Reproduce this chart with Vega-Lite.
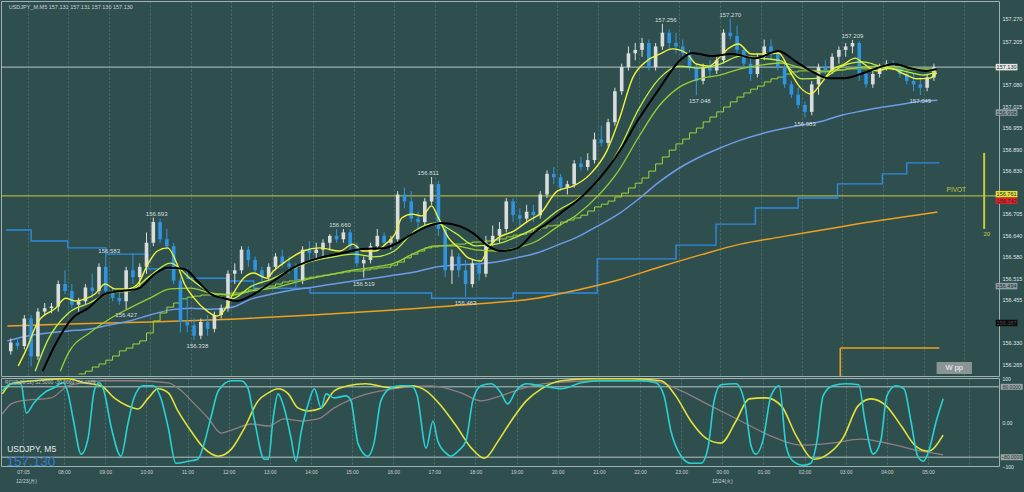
{
"$schema":"https://vega.github.io/schema/vega-lite/v6.json",
"background":"#2f4f4f",
"padding":0,
"spacing":2,
"bounds":"flush",
"config":{"view":{"stroke":"#9fb0b0","strokeWidth":1},"font":"Liberation Sans"},
"resolve":{"scale":{"x":"independent","y":"independent"}},
"datasets":{
"cd":[
{"t":"2024-12-23T06:35","o":156.305,"h":156.342,"l":156.295,"c":156.33},
{"t":"2024-12-23T06:45","o":156.33,"h":156.345,"l":156.31,"c":156.32},
{"t":"2024-12-23T06:55","o":156.32,"h":156.41,"l":156.31,"c":156.40},
{"t":"2024-12-23T07:05","o":156.40,"h":156.41,"l":156.262,"c":156.29},
{"t":"2024-12-23T07:15","o":156.29,"h":156.43,"l":156.28,"c":156.42},
{"t":"2024-12-23T07:25","o":156.42,"h":156.445,"l":156.41,"c":156.43},
{"t":"2024-12-23T07:35","o":156.43,"h":156.445,"l":156.415,"c":156.435},
{"t":"2024-12-23T07:45","o":156.435,"h":156.51,"l":156.42,"c":156.50},
{"t":"2024-12-23T07:55","o":156.50,"h":156.54,"l":156.47,"c":156.48},
{"t":"2024-12-23T08:05","o":156.48,"h":156.50,"l":156.43,"c":156.44},
{"t":"2024-12-23T08:15","o":156.44,"h":156.46,"l":156.42,"c":156.45,"s":156.239},
{"t":"2024-12-23T08:25","o":156.45,"h":156.50,"l":156.44,"c":156.49,"s":156.247},
{"t":"2024-12-23T08:35","o":156.49,"h":156.53,"l":156.46,"c":156.48,"s":156.259},
{"t":"2024-12-23T08:45","o":156.48,"h":156.56,"l":156.47,"c":156.55,"s":156.268},
{"t":"2024-12-23T08:55","o":156.55,"h":156.585,"l":156.47,"c":156.48,"s":156.279},
{"t":"2024-12-23T09:05","o":156.48,"h":156.49,"l":156.45,"c":156.46,"s":156.291},
{"t":"2024-12-23T09:15","o":156.46,"h":156.48,"l":156.44,"c":156.45,"s":156.306},
{"t":"2024-12-23T09:25","o":156.45,"h":156.55,"l":156.427,"c":156.54,"s":156.314},
{"t":"2024-12-23T09:35","o":156.54,"h":156.59,"l":156.50,"c":156.52,"s":156.326},
{"t":"2024-12-23T09:45","o":156.52,"h":156.56,"l":156.49,"c":156.55,"s":156.335},
{"t":"2024-12-23T09:55","o":156.55,"h":156.65,"l":156.53,"c":156.62,"s":156.358},
{"t":"2024-12-23T10:05","o":156.62,"h":156.693,"l":156.61,"c":156.68,"s":156.393},
{"t":"2024-12-23T10:15","o":156.68,"h":156.69,"l":156.62,"c":156.63,"s":156.416},
{"t":"2024-12-23T10:25","o":156.63,"h":156.66,"l":156.60,"c":156.61,"s":156.433},
{"t":"2024-12-23T10:35","o":156.61,"h":156.62,"l":156.50,"c":156.51,"s":156.445},
{"t":"2024-12-23T10:45","o":156.51,"h":156.52,"l":156.36,"c":156.39,"s":156.457},
{"t":"2024-12-23T10:55","o":156.39,"h":156.46,"l":156.36,"c":156.38,"s":156.462},
{"t":"2024-12-23T11:05","o":156.38,"h":156.40,"l":156.338,"c":156.35,"s":156.465},
{"t":"2024-12-23T11:15","o":156.35,"h":156.40,"l":156.34,"c":156.39,"s":156.468},
{"t":"2024-12-23T11:25","o":156.39,"h":156.41,"l":156.35,"c":156.37,"s":156.468},
{"t":"2024-12-23T11:35","o":156.37,"h":156.42,"l":156.36,"c":156.41,"s":156.471},
{"t":"2024-12-23T11:45","o":156.41,"h":156.44,"l":156.40,"c":156.43,"s":156.471},
{"t":"2024-12-23T11:55","o":156.43,"h":156.54,"l":156.42,"c":156.53,"s":156.474},
{"t":"2024-12-23T12:05","o":156.53,"h":156.56,"l":156.50,"c":156.54,"s":156.474},
{"t":"2024-12-23T12:15","o":156.54,"h":156.61,"l":156.53,"c":156.60,"s":156.477},
{"t":"2024-12-23T12:25","o":156.60,"h":156.61,"l":156.55,"c":156.57,"s":156.483},
{"t":"2024-12-23T12:35","o":156.57,"h":156.58,"l":156.53,"c":156.54,"s":156.486},
{"t":"2024-12-23T12:45","o":156.54,"h":156.55,"l":156.50,"c":156.52,"s":156.491},
{"t":"2024-12-23T12:55","o":156.52,"h":156.56,"l":156.51,"c":156.55,"s":156.494},
{"t":"2024-12-23T13:05","o":156.55,"h":156.59,"l":156.54,"c":156.58,"s":156.500},
{"t":"2024-12-23T13:15","o":156.58,"h":156.60,"l":156.55,"c":156.56,"s":156.506},
{"t":"2024-12-23T13:25","o":156.56,"h":156.58,"l":156.53,"c":156.55,"s":156.509},
{"t":"2024-12-23T13:35","o":156.55,"h":156.56,"l":156.49,"c":156.51,"s":156.512},
{"t":"2024-12-23T13:45","o":156.51,"h":156.61,"l":156.50,"c":156.60,"s":156.517},
{"t":"2024-12-23T13:55","o":156.60,"h":156.625,"l":156.57,"c":156.59,"s":156.520},
{"t":"2024-12-23T14:05","o":156.59,"h":156.62,"l":156.57,"c":156.60,"s":156.523},
{"t":"2024-12-23T14:15","o":156.60,"h":156.63,"l":156.58,"c":156.62,"s":156.526},
{"t":"2024-12-23T14:25","o":156.62,"h":156.645,"l":156.60,"c":156.64,"s":156.529},
{"t":"2024-12-23T14:35","o":156.64,"h":156.66,"l":156.62,"c":156.63,"s":156.532},
{"t":"2024-12-23T14:45","o":156.63,"h":156.66,"l":156.62,"c":156.65,"s":156.535},
{"t":"2024-12-23T14:55","o":156.65,"h":156.66,"l":156.60,"c":156.61,"s":156.538},
{"t":"2024-12-23T15:05","o":156.61,"h":156.62,"l":156.55,"c":156.56,"s":156.538},
{"t":"2024-12-23T15:15","o":156.56,"h":156.58,"l":156.519,"c":156.57,"s":156.541},
{"t":"2024-12-23T15:25","o":156.57,"h":156.62,"l":156.56,"c":156.61,"s":156.544},
{"t":"2024-12-23T15:35","o":156.61,"h":156.66,"l":156.60,"c":156.64,"s":156.547},
{"t":"2024-12-23T15:45","o":156.64,"h":156.65,"l":156.61,"c":156.62,"s":156.549},
{"t":"2024-12-23T15:55","o":156.62,"h":156.64,"l":156.60,"c":156.63,"s":156.555},
{"t":"2024-12-23T16:05","o":156.63,"h":156.77,"l":156.62,"c":156.76,"s":156.564},
{"t":"2024-12-23T16:15","o":156.76,"h":156.78,"l":156.72,"c":156.74,"s":156.576},
{"t":"2024-12-23T16:25","o":156.74,"h":156.77,"l":156.68,"c":156.69,"s":156.587},
{"t":"2024-12-23T16:35","o":156.69,"h":156.71,"l":156.66,"c":156.68,"s":156.596},
{"t":"2024-12-23T16:45","o":156.68,"h":156.75,"l":156.67,"c":156.74,"s":156.605},
{"t":"2024-12-23T16:55","o":156.74,"h":156.811,"l":156.73,"c":156.79,"s":156.608},
{"t":"2024-12-23T17:05","o":156.79,"h":156.80,"l":156.64,"c":156.66,"s":156.611},
{"t":"2024-12-23T17:15","o":156.66,"h":156.67,"l":156.52,"c":156.54,"s":156.613},
{"t":"2024-12-23T17:25","o":156.54,"h":156.60,"l":156.50,"c":156.58,"s":156.616},
{"t":"2024-12-23T17:35","o":156.58,"h":156.59,"l":156.52,"c":156.54,"s":156.616},
{"t":"2024-12-23T17:45","o":156.54,"h":156.57,"l":156.463,"c":156.50,"s":156.619},
{"t":"2024-12-23T17:55","o":156.50,"h":156.57,"l":156.49,"c":156.56,"s":156.622},
{"t":"2024-12-23T18:05","o":156.56,"h":156.57,"l":156.51,"c":156.53,"s":156.622},
{"t":"2024-12-23T18:15","o":156.53,"h":156.64,"l":156.52,"c":156.62,"s":156.625},
{"t":"2024-12-23T18:25","o":156.62,"h":156.67,"l":156.61,"c":156.64,"s":156.628},
{"t":"2024-12-23T18:35","o":156.64,"h":156.68,"l":156.62,"c":156.66,"s":156.631},
{"t":"2024-12-23T18:45","o":156.66,"h":156.75,"l":156.65,"c":156.74,"s":156.637},
{"t":"2024-12-23T18:55","o":156.74,"h":156.75,"l":156.68,"c":156.70,"s":156.642},
{"t":"2024-12-23T19:05","o":156.70,"h":156.72,"l":156.67,"c":156.69,"s":156.645},
{"t":"2024-12-23T19:15","o":156.69,"h":156.73,"l":156.68,"c":156.71,"s":156.651},
{"t":"2024-12-23T19:25","o":156.71,"h":156.73,"l":156.68,"c":156.70,"s":156.657},
{"t":"2024-12-23T19:35","o":156.70,"h":156.77,"l":156.69,"c":156.76,"s":156.663},
{"t":"2024-12-23T19:45","o":156.76,"h":156.83,"l":156.75,"c":156.82,"s":156.669},
{"t":"2024-12-23T19:55","o":156.82,"h":156.84,"l":156.79,"c":156.81,"s":156.671},
{"t":"2024-12-23T20:05","o":156.81,"h":156.82,"l":156.77,"c":156.78,"s":156.680},
{"t":"2024-12-23T20:15","o":156.78,"h":156.80,"l":156.76,"c":156.79,"s":156.686},
{"t":"2024-12-23T20:25","o":156.79,"h":156.86,"l":156.78,"c":156.85,"s":156.692},
{"t":"2024-12-23T20:35","o":156.85,"h":156.87,"l":156.83,"c":156.84,"s":156.700},
{"t":"2024-12-23T20:45","o":156.84,"h":156.88,"l":156.83,"c":156.86,"s":156.712},
{"t":"2024-12-23T20:55","o":156.86,"h":156.94,"l":156.85,"c":156.92,"s":156.724},
{"t":"2024-12-23T21:05","o":156.92,"h":156.96,"l":156.90,"c":156.91,"s":156.732},
{"t":"2024-12-23T21:15","o":156.91,"h":156.98,"l":156.90,"c":156.97,"s":156.741},
{"t":"2024-12-23T21:25","o":156.97,"h":157.07,"l":156.96,"c":157.06,"s":156.753},
{"t":"2024-12-23T21:35","o":157.06,"h":157.14,"l":157.05,"c":157.13,"s":156.764},
{"t":"2024-12-23T21:45","o":157.13,"h":157.19,"l":157.12,"c":157.17,"s":156.779},
{"t":"2024-12-23T21:55","o":157.17,"h":157.20,"l":157.15,"c":157.18,"s":156.793},
{"t":"2024-12-23T22:05","o":157.18,"h":157.215,"l":157.16,"c":157.20,"s":156.808},
{"t":"2024-12-23T22:15","o":157.20,"h":157.21,"l":157.12,"c":157.13,"s":156.828},
{"t":"2024-12-23T22:25","o":157.13,"h":157.20,"l":157.12,"c":157.19,"s":156.849},
{"t":"2024-12-23T22:35","o":157.19,"h":157.256,"l":157.18,"c":157.23,"s":156.869},
{"t":"2024-12-23T22:45","o":157.23,"h":157.24,"l":157.18,"c":157.20,"s":156.889},
{"t":"2024-12-23T22:55","o":157.20,"h":157.23,"l":157.17,"c":157.19,"s":156.907},
{"t":"2024-12-23T23:05","o":157.19,"h":157.21,"l":157.16,"c":157.17,"s":156.921},
{"t":"2024-12-23T23:15","o":157.17,"h":157.18,"l":157.12,"c":157.13,"s":156.939},
{"t":"2024-12-23T23:25","o":157.13,"h":157.14,"l":157.048,"c":157.09,"s":156.953},
{"t":"2024-12-23T23:35","o":157.09,"h":157.14,"l":157.08,"c":157.13,"s":156.971},
{"t":"2024-12-23T23:45","o":157.13,"h":157.15,"l":157.10,"c":157.12,"s":156.985},
{"t":"2024-12-23T23:55","o":157.12,"h":157.16,"l":157.11,"c":157.15,"s":157.000},
{"t":"2024-12-24T00:05","o":157.15,"h":157.24,"l":157.14,"c":157.23,"s":157.014},
{"t":"2024-12-24T00:15","o":157.23,"h":157.270,"l":157.21,"c":157.22,"s":157.029},
{"t":"2024-12-24T00:25","o":157.22,"h":157.25,"l":157.16,"c":157.18,"s":157.043},
{"t":"2024-12-24T00:35","o":157.18,"h":157.19,"l":157.13,"c":157.14,"s":157.055},
{"t":"2024-12-24T00:45","o":157.14,"h":157.16,"l":157.09,"c":157.11,"s":157.066},
{"t":"2024-12-24T00:55","o":157.11,"h":157.17,"l":157.10,"c":157.16,"s":157.075},
{"t":"2024-12-24T01:05","o":157.16,"h":157.21,"l":157.15,"c":157.19,"s":157.087},
{"t":"2024-12-24T01:15","o":157.19,"h":157.21,"l":157.15,"c":157.17,"s":157.096},
{"t":"2024-12-24T01:25","o":157.17,"h":157.18,"l":157.12,"c":157.13,"s":157.101},
{"t":"2024-12-24T01:35","o":157.13,"h":157.15,"l":157.07,"c":157.08,"s":157.110},
{"t":"2024-12-24T01:45","o":157.08,"h":157.09,"l":157.04,"c":157.05,"s":157.116},
{"t":"2024-12-24T01:55","o":157.05,"h":157.07,"l":157.01,"c":157.02,"s":157.119},
{"t":"2024-12-24T02:05","o":157.02,"h":157.03,"l":156.983,"c":157.00,"s":157.119},
{"t":"2024-12-24T02:15","o":157.00,"h":157.09,"l":156.99,"c":157.08,"s":157.119},
{"t":"2024-12-24T02:25","o":157.08,"h":157.14,"l":157.05,"c":157.13,"s":157.119},
{"t":"2024-12-24T02:35","o":157.13,"h":157.15,"l":157.11,"c":157.12,"s":157.119},
{"t":"2024-12-24T02:45","o":157.12,"h":157.17,"l":157.11,"c":157.16,"s":157.122},
{"t":"2024-12-24T02:55","o":157.16,"h":157.19,"l":157.14,"c":157.18,"s":157.122},
{"t":"2024-12-24T03:05","o":157.18,"h":157.20,"l":157.16,"c":157.19,"s":157.125},
{"t":"2024-12-24T03:15","o":157.19,"h":157.209,"l":157.17,"c":157.20,"s":157.125},
{"t":"2024-12-24T03:25","o":157.20,"h":157.205,"l":157.09,"c":157.11,"s":157.125},
{"t":"2024-12-24T03:35","o":157.11,"h":157.12,"l":157.07,"c":157.08,"s":157.125},
{"t":"2024-12-24T03:45","o":157.08,"h":157.12,"l":157.07,"c":157.11,"s":157.125},
{"t":"2024-12-24T03:55","o":157.11,"h":157.14,"l":157.10,"c":157.13,"s":157.125},
{"t":"2024-12-24T04:05","o":157.13,"h":157.15,"l":157.12,"c":157.14,"s":157.125},
{"t":"2024-12-24T04:15","o":157.14,"h":157.15,"l":157.12,"c":157.13,"s":157.125},
{"t":"2024-12-24T04:25","o":157.13,"h":157.14,"l":157.10,"c":157.11,"s":157.125},
{"t":"2024-12-24T04:35","o":157.11,"h":157.12,"l":157.08,"c":157.09,"s":157.122},
{"t":"2024-12-24T04:45","o":157.09,"h":157.11,"l":157.06,"c":157.08,"s":157.122},
{"t":"2024-12-24T04:55","o":157.08,"h":157.10,"l":157.049,"c":157.07,"s":157.122},
{"t":"2024-12-24T05:05","o":157.07,"h":157.11,"l":157.06,"c":157.10,"s":157.119},
{"t":"2024-12-24T05:15","o":157.10,"h":157.14,"l":157.09,"c":157.13,"s":157.119}
],
"my":[
{"t":"2024-12-23T06:46","v":156.262},{"t":"2024-12-23T06:57","v":156.306},{"t":"2024-12-23T07:16","v":156.393},{"t":"2024-12-23T07:41","v":156.430},{"t":"2024-12-23T07:56","v":156.459},{"t":"2024-12-23T08:10","v":156.451},{"t":"2024-12-23T08:25","v":156.457},{"t":"2024-12-23T08:39","v":156.471},{"t":"2024-12-23T08:54","v":156.500},{"t":"2024-12-23T09:09","v":156.486},{"t":"2024-12-23T09:28","v":156.486},{"t":"2024-12-23T09:42","v":156.500},{"t":"2024-12-23T09:57","v":156.558},{"t":"2024-12-23T10:11","v":156.596},{"t":"2024-12-23T10:26","v":156.605},{"t":"2024-12-23T10:40","v":156.558},{"t":"2024-12-23T10:51","v":156.500},{"t":"2024-12-23T11:05","v":156.459},{"t":"2024-12-23T11:24","v":156.422},{"t":"2024-12-23T11:39","v":156.407},{"t":"2024-12-23T11:49","v":156.422},{"t":"2024-12-23T11:59","v":156.459},{"t":"2024-12-23T12:18","v":156.517},{"t":"2024-12-23T12:33","v":156.532},{"t":"2024-12-23T12:52","v":156.517},{"t":"2024-12-23T13:02","v":156.538},{"t":"2024-12-23T13:21","v":156.567},{"t":"2024-12-23T13:46","v":156.596},{"t":"2024-12-23T14:10","v":156.605},{"t":"2024-12-23T14:40","v":156.596},{"t":"2024-12-23T14:59","v":156.616},{"t":"2024-12-23T15:13","v":156.596},{"t":"2024-12-23T15:32","v":156.596},{"t":"2024-12-23T15:47","v":156.616},{"t":"2024-12-23T16:01","v":156.645},{"t":"2024-12-23T16:11","v":156.692},{"t":"2024-12-23T16:26","v":156.703},{"t":"2024-12-23T16:41","v":156.698},{"t":"2024-12-23T16:55","v":156.727},{"t":"2024-12-23T17:05","v":156.692},{"t":"2024-12-23T17:20","v":156.634},{"t":"2024-12-23T17:35","v":156.605},{"t":"2024-12-23T17:49","v":156.576},{"t":"2024-12-23T18:08","v":156.567},{"t":"2024-12-23T18:18","v":156.605},{"t":"2024-12-23T18:33","v":156.634},{"t":"2024-12-23T18:56","v":156.654},{"t":"2024-12-23T19:17","v":156.683},{"t":"2024-12-23T19:36","v":156.706},{"t":"2024-12-23T20:00","v":156.770},{"t":"2024-12-23T20:24","v":156.785},{"t":"2024-12-23T20:49","v":156.820},{"t":"2024-12-23T21:13","v":156.886},{"t":"2024-12-23T21:32","v":156.982},{"t":"2024-12-23T21:51","v":157.098},{"t":"2024-12-23T22:12","v":157.148},{"t":"2024-12-23T22:31","v":157.168},{"t":"2024-12-23T22:50","v":157.183},{"t":"2024-12-23T23:10","v":157.171},{"t":"2024-12-23T23:25","v":157.139},{"t":"2024-12-23T23:44","v":157.133},{"t":"2024-12-23T23:58","v":157.156},{"t":"2024-12-24T00:13","v":157.185},{"t":"2024-12-24T00:27","v":157.197},{"t":"2024-12-24T00:46","v":157.168},{"t":"2024-12-24T01:07","v":157.168},{"t":"2024-12-24T01:26","v":157.171},{"t":"2024-12-24T01:45","v":157.110},{"t":"2024-12-24T01:59","v":157.069},{"t":"2024-12-24T02:14","v":157.052},{"t":"2024-12-24T02:28","v":157.081},{"t":"2024-12-24T02:43","v":157.119},{"t":"2024-12-24T03:03","v":157.139},{"t":"2024-12-24T03:19","v":157.156},{"t":"2024-12-24T03:32","v":157.139},{"t":"2024-12-24T03:51","v":157.119},{"t":"2024-12-24T04:10","v":157.127},{"t":"2024-12-24T04:31","v":157.110},{"t":"2024-12-24T04:50","v":157.096},{"t":"2024-12-24T05:09","v":157.098},{"t":"2024-12-24T05:19","v":157.113}
],
"mk":[
{"t":"2024-12-23T07:22","v":156.247},{"t":"2024-12-23T07:41","v":156.326},{"t":"2024-12-23T08:06","v":156.401},{"t":"2024-12-23T08:29","v":156.430},{"t":"2024-12-23T08:54","v":156.471},{"t":"2024-12-23T09:19","v":156.480},{"t":"2024-12-23T09:42","v":156.486},{"t":"2024-12-23T10:07","v":156.529},{"t":"2024-12-23T10:26","v":156.547},{"t":"2024-12-23T10:51","v":156.544},{"t":"2024-12-23T11:10","v":156.509},{"t":"2024-12-23T11:30","v":156.471},{"t":"2024-12-23T11:49","v":156.459},{"t":"2024-12-23T12:08","v":156.451},{"t":"2024-12-23T12:33","v":156.471},{"t":"2024-12-23T13:02","v":156.509},{"t":"2024-12-23T13:31","v":156.547},{"t":"2024-12-23T14:10","v":156.576},{"t":"2024-12-23T14:44","v":156.590},{"t":"2024-12-23T15:13","v":156.602},{"t":"2024-12-23T15:47","v":156.605},{"t":"2024-12-23T16:01","v":156.616},{"t":"2024-12-23T16:26","v":156.645},{"t":"2024-12-23T16:51","v":156.669},{"t":"2024-12-23T17:10","v":156.677},{"t":"2024-12-23T17:35","v":156.669},{"t":"2024-12-23T17:58","v":156.645},{"t":"2024-12-23T18:18","v":156.611},{"t":"2024-12-23T18:37","v":156.596},{"t":"2024-12-23T19:02","v":156.605},{"t":"2024-12-23T19:25","v":156.648},{"t":"2024-12-23T19:50","v":156.683},{"t":"2024-12-23T20:05","v":156.706},{"t":"2024-12-23T20:34","v":156.750},{"t":"2024-12-23T21:03","v":156.808},{"t":"2024-12-23T21:32","v":156.886},{"t":"2024-12-23T22:01","v":156.982},{"t":"2024-12-23T22:31","v":157.069},{"t":"2024-12-23T23:00","v":157.148},{"t":"2024-12-23T23:19","v":157.171},{"t":"2024-12-23T23:48","v":157.162},{"t":"2024-12-24T00:17","v":157.168},{"t":"2024-12-24T00:52","v":157.156},{"t":"2024-12-24T01:26","v":157.177},{"t":"2024-12-24T01:50","v":157.148},{"t":"2024-12-24T02:14","v":157.119},{"t":"2024-12-24T02:39","v":157.098},{"t":"2024-12-24T03:03","v":157.098},{"t":"2024-12-24T03:27","v":157.110},{"t":"2024-12-24T03:51","v":157.127},{"t":"2024-12-24T04:16","v":157.139},{"t":"2024-12-24T04:40","v":157.127},{"t":"2024-12-24T05:04","v":157.119},{"t":"2024-12-24T05:19","v":157.125}
],
"mgy":[
{"t":"2024-12-23T07:11","v":156.247},{"t":"2024-12-23T07:29","v":156.335},{"t":"2024-12-23T08:00","v":156.416},{"t":"2024-12-23T08:31","v":156.445},{"t":"2024-12-23T09:00","v":156.474},{"t":"2024-12-23T09:30","v":156.480},{"t":"2024-12-23T10:00","v":156.523},{"t":"2024-12-23T10:30","v":156.561},{"t":"2024-12-23T11:00","v":156.515},{"t":"2024-12-23T11:30","v":156.474},{"t":"2024-12-23T12:00","v":156.457},{"t":"2024-12-23T12:30","v":156.494},{"t":"2024-12-23T13:00","v":156.515},{"t":"2024-12-23T13:30","v":156.544},{"t":"2024-12-23T14:00","v":156.567},{"t":"2024-12-23T14:30","v":156.579},{"t":"2024-12-23T15:00","v":156.587},{"t":"2024-12-23T15:30","v":156.579},{"t":"2024-12-23T16:00","v":156.596},{"t":"2024-12-23T16:30","v":156.654},{"t":"2024-12-23T17:00","v":156.677},{"t":"2024-12-23T17:30","v":156.648},{"t":"2024-12-23T18:00","v":156.611},{"t":"2024-12-23T18:30","v":156.616},{"t":"2024-12-23T19:00","v":156.637},{"t":"2024-12-23T19:30","v":156.666},{"t":"2024-12-23T20:00","v":156.712},{"t":"2024-12-23T20:30","v":156.747},{"t":"2024-12-23T21:00","v":156.799},{"t":"2024-12-23T21:30","v":156.886},{"t":"2024-12-23T22:00","v":157.008},{"t":"2024-12-23T22:30","v":157.096},{"t":"2024-12-23T23:00","v":157.133},{"t":"2024-12-23T23:30","v":157.127},{"t":"2024-12-24T00:00","v":157.139},{"t":"2024-12-24T00:30","v":157.162},{"t":"2024-12-24T01:00","v":157.156},{"t":"2024-12-24T01:30","v":157.148},{"t":"2024-12-24T02:00","v":157.096},{"t":"2024-12-24T02:30","v":157.098},{"t":"2024-12-24T03:00","v":157.133},{"t":"2024-12-24T03:30","v":157.145},{"t":"2024-12-24T04:00","v":157.130},{"t":"2024-12-24T04:30","v":157.119},{"t":"2024-12-24T05:00","v":157.107},{"t":"2024-12-24T05:19","v":157.116}
],
"myg":[
{"t":"2024-12-23T07:48","v":156.247},{"t":"2024-12-23T08:00","v":156.300},{"t":"2024-12-23T08:31","v":156.358},{"t":"2024-12-23T09:00","v":156.398},{"t":"2024-12-23T09:30","v":156.430},{"t":"2024-12-23T10:00","v":156.459},{"t":"2024-12-23T10:30","v":156.486},{"t":"2024-12-23T11:00","v":156.488},{"t":"2024-12-23T11:30","v":156.474},{"t":"2024-12-23T12:00","v":156.468},{"t":"2024-12-23T12:30","v":156.480},{"t":"2024-12-23T13:00","v":156.488},{"t":"2024-12-23T13:30","v":156.503},{"t":"2024-12-23T14:00","v":156.517},{"t":"2024-12-23T14:30","v":156.529},{"t":"2024-12-23T15:00","v":156.541},{"t":"2024-12-23T15:30","v":156.549},{"t":"2024-12-23T16:00","v":156.561},{"t":"2024-12-23T16:30","v":156.590},{"t":"2024-12-23T17:00","v":156.611},{"t":"2024-12-23T17:30","v":156.611},{"t":"2024-12-23T18:00","v":156.599},{"t":"2024-12-23T18:30","v":156.596},{"t":"2024-12-23T19:00","v":156.605},{"t":"2024-12-23T19:30","v":156.625},{"t":"2024-12-23T20:00","v":156.666},{"t":"2024-12-23T20:30","v":156.703},{"t":"2024-12-23T21:00","v":156.756},{"t":"2024-12-23T21:30","v":156.828},{"t":"2024-12-23T22:00","v":156.927},{"t":"2024-12-23T22:30","v":157.017},{"t":"2024-12-23T23:00","v":157.072},{"t":"2024-12-23T23:30","v":157.096},{"t":"2024-12-24T00:00","v":157.107},{"t":"2024-12-24T00:30","v":157.125},{"t":"2024-12-24T01:00","v":157.136},{"t":"2024-12-24T01:30","v":157.142},{"t":"2024-12-24T02:00","v":157.127},{"t":"2024-12-24T02:30","v":157.116},{"t":"2024-12-24T03:00","v":157.122},{"t":"2024-12-24T03:30","v":157.130},{"t":"2024-12-24T04:00","v":157.133},{"t":"2024-12-24T04:30","v":157.130},{"t":"2024-12-24T05:00","v":157.125},{"t":"2024-12-24T05:19","v":157.125}
],
"mb":[
{"t":"2024-12-23T06:30","v":156.335},{"t":"2024-12-23T07:00","v":156.349},{"t":"2024-12-23T07:30","v":156.358},{"t":"2024-12-23T08:00","v":156.364},{"t":"2024-12-23T08:30","v":156.369},{"t":"2024-12-23T09:00","v":156.381},{"t":"2024-12-23T09:30","v":156.393},{"t":"2024-12-23T10:00","v":156.410},{"t":"2024-12-23T10:30","v":156.425},{"t":"2024-12-23T11:00","v":156.430},{"t":"2024-12-23T11:30","v":156.427},{"t":"2024-12-23T12:00","v":156.432},{"t":"2024-12-23T12:30","v":156.457},{"t":"2024-12-23T13:00","v":156.471},{"t":"2024-12-23T13:30","v":156.483},{"t":"2024-12-23T14:00","v":156.491},{"t":"2024-12-23T14:30","v":156.500},{"t":"2024-12-23T15:00","v":156.509},{"t":"2024-12-23T15:30","v":156.517},{"t":"2024-12-23T16:00","v":156.526},{"t":"2024-12-23T16:30","v":156.535},{"t":"2024-12-23T17:00","v":156.549},{"t":"2024-12-23T17:30","v":156.555},{"t":"2024-12-23T18:00","v":156.558},{"t":"2024-12-23T18:30","v":156.564},{"t":"2024-12-23T19:00","v":156.576},{"t":"2024-12-23T19:30","v":156.590},{"t":"2024-12-23T20:00","v":156.613},{"t":"2024-12-23T20:30","v":156.637},{"t":"2024-12-23T21:00","v":156.669},{"t":"2024-12-23T21:30","v":156.703},{"t":"2024-12-23T22:00","v":156.747},{"t":"2024-12-23T22:30","v":156.796},{"t":"2024-12-23T23:00","v":156.837},{"t":"2024-12-23T23:30","v":156.869},{"t":"2024-12-24T00:00","v":156.895},{"t":"2024-12-24T00:30","v":156.918},{"t":"2024-12-24T01:00","v":156.936},{"t":"2024-12-24T01:30","v":156.950},{"t":"2024-12-24T02:00","v":156.962},{"t":"2024-12-24T02:30","v":156.973},{"t":"2024-12-24T03:00","v":156.991},{"t":"2024-12-24T03:30","v":157.003},{"t":"2024-12-24T04:00","v":157.014},{"t":"2024-12-24T04:30","v":157.023},{"t":"2024-12-24T05:00","v":157.032},{"t":"2024-12-24T05:20","v":157.034}
],
"mo":[
{"t":"2024-12-23T06:30","v":156.378},{"t":"2024-12-23T08:00","v":156.384},{"t":"2024-12-23T10:00","v":156.390},{"t":"2024-12-23T12:00","v":156.398},{"t":"2024-12-23T14:00","v":156.410},{"t":"2024-12-23T16:00","v":156.425},{"t":"2024-12-23T18:00","v":156.442},{"t":"2024-12-23T19:30","v":156.459},{"t":"2024-12-23T20:30","v":156.483},{"t":"2024-12-23T21:30","v":156.512},{"t":"2024-12-23T22:30","v":156.549},{"t":"2024-12-23T23:30","v":156.584},{"t":"2024-12-24T00:30","v":156.616},{"t":"2024-12-24T01:30","v":156.637},{"t":"2024-12-24T02:30","v":156.657},{"t":"2024-12-24T03:30","v":156.677},{"t":"2024-12-24T04:30","v":156.695},{"t":"2024-12-24T05:20","v":156.709}
],
"bs":[
{"t":"2024-12-23T06:28","v":156.657},{"t":"2024-12-23T07:05","v":156.625},{"t":"2024-12-23T07:59","v":156.605},{"t":"2024-12-23T08:55","v":156.587},{"t":"2024-12-23T09:57","v":156.544},{"t":"2024-12-23T10:55","v":156.517},{"t":"2024-12-23T11:53","v":156.509},{"t":"2024-12-23T12:33","v":156.488},{"t":"2024-12-23T13:56","v":156.474},{"t":"2024-12-23T16:55","v":156.459},{"t":"2024-12-23T18:55","v":156.474},{"t":"2024-12-23T20:59","v":156.573},{"t":"2024-12-23T22:55","v":156.613},{"t":"2024-12-23T23:54","v":156.674},{"t":"2024-12-24T00:52","v":156.721},{"t":"2024-12-24T01:55","v":156.750},{"t":"2024-12-24T02:53","v":156.791},{"t":"2024-12-24T03:59","v":156.820},{"t":"2024-12-24T04:35","v":156.852},{"t":"2024-12-24T05:23","v":156.852}
],
"lb":[
{"t":"2024-12-23T10:10","v":156.693,"k":"h"},{"t":"2024-12-23T09:00","v":156.583,"k":"h"},{"t":"2024-12-23T09:25","v":156.427,"k":"l"},{"t":"2024-12-23T11:10","v":156.338,"k":"l"},{"t":"2024-12-23T14:40","v":156.660,"k":"h"},{"t":"2024-12-23T15:15","v":156.519,"k":"l"},{"t":"2024-12-23T16:50","v":156.811,"k":"h"},{"t":"2024-12-23T17:45","v":156.463,"k":"l"},{"t":"2024-12-23T22:40","v":157.256,"k":"h"},{"t":"2024-12-23T23:30","v":157.048,"k":"l"},{"t":"2024-12-24T00:15","v":157.270,"k":"h"},{"t":"2024-12-24T02:05","v":156.983,"k":"l"},{"t":"2024-12-24T03:15","v":157.209,"k":"h"},{"t":"2024-12-24T04:55","v":157.049,"k":"l"}
],
"bx":[
{"v":157.130,"k":"w"},{"v":156.998,"k":"g"},{"v":156.761,"k":"y"},{"v":156.742,"k":"r"},{"v":156.494,"k":"g"},{"v":156.387,"k":"k"}
],
"rc":[
{"t":"2024-12-23T06:30","v":70.9},{"t":"2024-12-23T06:43","v":86.9},{"t":"2024-12-23T06:57","v":86.9},{"t":"2024-12-23T07:05","v":20.6},{"t":"2024-12-23T07:16","v":43.4},{"t":"2024-12-23T07:31","v":66.3},{"t":"2024-12-23T07:45","v":77.7},{"t":"2024-12-23T07:59","v":89.1},{"t":"2024-12-23T08:06","v":64.0},{"t":"2024-12-23T08:13","v":9.1},{"t":"2024-12-23T08:25","v":-73.1},{"t":"2024-12-23T08:35","v":-36.6},{"t":"2024-12-23T08:44","v":70.9},{"t":"2024-12-23T08:51","v":89.1},{"t":"2024-12-23T08:58","v":70.9},{"t":"2024-12-23T09:09","v":-13.7},{"t":"2024-12-23T09:23","v":-77.7},{"t":"2024-12-23T09:33","v":-4.6},{"t":"2024-12-23T09:42","v":54.9},{"t":"2024-12-23T09:55","v":82.3},{"t":"2024-12-23T10:10","v":82.3},{"t":"2024-12-23T10:21","v":54.9},{"t":"2024-12-23T10:32","v":-13.7},{"t":"2024-12-23T10:43","v":-93.7},{"t":"2024-12-23T11:01","v":-89.1},{"t":"2024-12-23T11:15","v":-84.6},{"t":"2024-12-23T11:24","v":-50.3},{"t":"2024-12-23T11:34","v":9.1},{"t":"2024-12-23T11:45","v":70.9},{"t":"2024-12-23T12:04","v":93.7},{"t":"2024-12-23T12:18","v":93.7},{"t":"2024-12-23T12:28","v":77.7},{"t":"2024-12-23T12:37","v":9.1},{"t":"2024-12-23T12:52","v":-84.6},{"t":"2024-12-23T12:58","v":-84.6},{"t":"2024-12-23T13:05","v":9.1},{"t":"2024-12-23T13:12","v":64.0},{"t":"2024-12-23T13:21","v":32.0},{"t":"2024-12-23T13:31","v":-36.6},{"t":"2024-12-23T13:38","v":-89.1},{"t":"2024-12-23T13:46","v":-20.6},{"t":"2024-12-23T13:56","v":41.1},{"t":"2024-12-23T14:05","v":75.4},{"t":"2024-12-23T14:15","v":32.0},{"t":"2024-12-23T14:22","v":64.0},{"t":"2024-12-23T14:34","v":54.9},{"t":"2024-12-23T14:51","v":59.4},{"t":"2024-12-23T14:58","v":50.0},{"t":"2024-12-23T15:09","v":-50.3},{"t":"2024-12-23T15:23","v":-77.7},{"t":"2024-12-23T15:32","v":-48.0},{"t":"2024-12-23T15:42","v":48.0},{"t":"2024-12-23T15:57","v":77.7},{"t":"2024-12-23T16:11","v":82.3},{"t":"2024-12-23T16:26","v":82.3},{"t":"2024-12-23T16:35","v":59.4},{"t":"2024-12-23T16:48","v":-59.4},{"t":"2024-12-23T16:58","v":2.3},{"t":"2024-12-23T17:05","v":-43.4},{"t":"2024-12-23T17:17","v":-70.9},{"t":"2024-12-23T17:24","v":-77.7},{"t":"2024-12-23T17:36","v":-64.0},{"t":"2024-12-23T17:46","v":-43.4},{"t":"2024-12-23T17:56","v":48.0},{"t":"2024-12-23T18:08","v":82.3},{"t":"2024-12-23T18:23","v":86.9},{"t":"2024-12-23T18:37","v":66.3},{"t":"2024-12-23T18:47","v":41.1},{"t":"2024-12-23T18:59","v":70.9},{"t":"2024-12-23T19:14","v":86.9},{"t":"2024-12-23T19:36","v":82.3},{"t":"2024-12-23T20:05","v":75.4},{"t":"2024-12-23T20:34","v":89.1},{"t":"2024-12-23T21:03","v":93.7},{"t":"2024-12-23T21:32","v":93.7},{"t":"2024-12-23T22:01","v":93.7},{"t":"2024-12-23T22:23","v":89.1},{"t":"2024-12-23T22:35","v":59.4},{"t":"2024-12-23T22:45","v":-20.6},{"t":"2024-12-23T23:00","v":-77.7},{"t":"2024-12-23T23:14","v":-93.7},{"t":"2024-12-23T23:29","v":-93.7},{"t":"2024-12-23T23:39","v":-59.4},{"t":"2024-12-23T23:48","v":48.0},{"t":"2024-12-23T23:58","v":84.6},{"t":"2024-12-24T00:20","v":86.9},{"t":"2024-12-24T00:32","v":48.0},{"t":"2024-12-24T00:42","v":-54.9},{"t":"2024-12-24T00:49","v":-73.1},{"t":"2024-12-24T00:59","v":-43.4},{"t":"2024-12-24T01:11","v":59.4},{"t":"2024-12-24T01:23","v":82.3},{"t":"2024-12-24T01:33","v":-54.9},{"t":"2024-12-24T01:43","v":-89.1},{"t":"2024-12-24T01:58","v":-98.3},{"t":"2024-12-24T02:09","v":-93.7},{"t":"2024-12-24T02:18","v":-43.4},{"t":"2024-12-24T02:27","v":59.4},{"t":"2024-12-24T02:41","v":82.3},{"t":"2024-12-24T03:00","v":86.9},{"t":"2024-12-24T03:19","v":84.6},{"t":"2024-12-24T03:28","v":2.3},{"t":"2024-12-24T03:40","v":-73.1},{"t":"2024-12-24T03:51","v":-43.4},{"t":"2024-12-24T04:00","v":59.4},{"t":"2024-12-24T04:13","v":82.3},{"t":"2024-12-24T04:25","v":75.4},{"t":"2024-12-24T04:35","v":2.3},{"t":"2024-12-24T04:45","v":-77.7},{"t":"2024-12-24T04:53","v":-89.1},{"t":"2024-12-24T05:01","v":-66.3},{"t":"2024-12-24T05:12","v":2.3},{"t":"2024-12-24T05:22","v":52.6}
],
"ry":[
{"t":"2024-12-23T06:30","v":64.0},{"t":"2024-12-23T06:43","v":86.9},{"t":"2024-12-23T07:16","v":93.7},{"t":"2024-12-23T08:06","v":98.3},{"t":"2024-12-23T08:29","v":89.1},{"t":"2024-12-23T08:54","v":82.3},{"t":"2024-12-23T09:13","v":54.9},{"t":"2024-12-23T09:33","v":36.6},{"t":"2024-12-23T09:48","v":29.7},{"t":"2024-12-23T10:03","v":54.9},{"t":"2024-12-23T10:17","v":75.4},{"t":"2024-12-23T10:32","v":66.3},{"t":"2024-12-23T10:46","v":25.1},{"t":"2024-12-23T11:05","v":-20.6},{"t":"2024-12-23T11:24","v":-59.4},{"t":"2024-12-23T11:45","v":-77.7},{"t":"2024-12-23T12:04","v":-61.7},{"t":"2024-12-23T12:23","v":-13.7},{"t":"2024-12-23T12:43","v":48.0},{"t":"2024-12-23T12:58","v":66.3},{"t":"2024-12-23T13:12","v":75.4},{"t":"2024-12-23T13:27","v":64.0},{"t":"2024-12-23T13:41","v":32.0},{"t":"2024-12-23T13:56","v":25.1},{"t":"2024-12-23T14:15","v":32.0},{"t":"2024-12-23T14:34","v":70.9},{"t":"2024-12-23T14:54","v":82.3},{"t":"2024-12-23T15:20","v":86.9},{"t":"2024-12-23T15:57","v":77.7},{"t":"2024-12-23T16:26","v":82.3},{"t":"2024-12-23T16:48","v":70.9},{"t":"2024-12-23T17:10","v":36.6},{"t":"2024-12-23T17:32","v":-9.1},{"t":"2024-12-23T17:54","v":-59.4},{"t":"2024-12-23T18:13","v":-82.3},{"t":"2024-12-23T18:33","v":-43.4},{"t":"2024-12-23T18:52","v":2.3},{"t":"2024-12-23T19:14","v":48.0},{"t":"2024-12-23T19:36","v":75.4},{"t":"2024-12-23T20:05","v":93.7},{"t":"2024-12-23T20:49","v":98.3},{"t":"2024-12-23T21:47","v":98.3},{"t":"2024-12-23T22:31","v":93.7},{"t":"2024-12-23T22:52","v":59.4},{"t":"2024-12-23T23:14","v":2.3},{"t":"2024-12-23T23:36","v":-36.6},{"t":"2024-12-23T23:58","v":-48.0},{"t":"2024-12-24T00:20","v":2.3},{"t":"2024-12-24T00:39","v":52.6},{"t":"2024-12-24T01:04","v":54.9},{"t":"2024-12-24T01:26","v":36.6},{"t":"2024-12-24T01:48","v":-32.0},{"t":"2024-12-24T02:14","v":-84.6},{"t":"2024-12-24T02:36","v":-70.9},{"t":"2024-12-24T02:56","v":-36.6},{"t":"2024-12-24T03:18","v":36.6},{"t":"2024-12-24T03:37","v":52.6},{"t":"2024-12-24T03:59","v":36.6},{"t":"2024-12-24T04:21","v":-9.1},{"t":"2024-12-24T04:42","v":-54.9},{"t":"2024-12-24T05:00","v":-66.3},{"t":"2024-12-24T05:22","v":-29.7}
],
"rb":[
{"t":"2024-12-23T06:30","v":18.3},{"t":"2024-12-23T06:43","v":41.1},{"t":"2024-12-23T06:57","v":48.0},{"t":"2024-12-23T07:41","v":54.9},{"t":"2024-12-23T08:06","v":82.3},{"t":"2024-12-23T08:29","v":89.1},{"t":"2024-12-23T08:54","v":93.7},{"t":"2024-12-23T09:42","v":93.7},{"t":"2024-12-23T10:32","v":89.1},{"t":"2024-12-23T10:51","v":70.9},{"t":"2024-12-23T11:10","v":41.1},{"t":"2024-12-23T11:30","v":9.1},{"t":"2024-12-23T11:49","v":-25.1},{"t":"2024-12-23T12:08","v":-16.0},{"t":"2024-12-23T12:33","v":-4.6},{"t":"2024-12-23T12:58","v":-9.1},{"t":"2024-12-23T13:21","v":6.9},{"t":"2024-12-23T13:46","v":2.3},{"t":"2024-12-23T14:10","v":6.9},{"t":"2024-12-23T14:34","v":32.0},{"t":"2024-12-23T14:54","v":48.0},{"t":"2024-12-23T15:28","v":66.3},{"t":"2024-12-23T16:11","v":77.7},{"t":"2024-12-23T16:55","v":82.3},{"t":"2024-12-23T17:39","v":66.3},{"t":"2024-12-23T18:08","v":48.0},{"t":"2024-12-23T18:37","v":59.4},{"t":"2024-12-23T19:06","v":75.4},{"t":"2024-12-23T19:50","v":89.1},{"t":"2024-12-23T21:03","v":93.7},{"t":"2024-12-23T22:16","v":93.7},{"t":"2024-12-23T23:00","v":70.9},{"t":"2024-12-23T23:43","v":36.6},{"t":"2024-12-24T00:27","v":2.3},{"t":"2024-12-24T01:11","v":-32.0},{"t":"2024-12-24T01:55","v":-52.6},{"t":"2024-12-24T02:39","v":-48.0},{"t":"2024-12-24T03:22","v":-38.9},{"t":"2024-12-24T04:06","v":-50.3},{"t":"2024-12-24T04:50","v":-66.3},{"t":"2024-12-24T05:22","v":-74.4}
]
},
"vconcat":[
{
"width":998,"height":375,
"layer":[
{"data":{"values":[{}]},"mark":{"type":"rule","color":"#c9c93a","strokeWidth":1},
 "encoding":{"y":{"datum":156.756,"type":"quantitative","scale":{"domain":[156.233,157.322],"nice":false,"zero":false},"axis":{"orient":"right","title":null,"labelOverlap":false}}}},
{"data":{"values":[{}]},"mark":{"type":"rule","color":"#b9c4c4","strokeWidth":1},
 "encoding":{"y":{"datum":157.130,"type":"quantitative","scale":{"domain":[156.233,157.322],"nice":false,"zero":false},"axis":{"orient":"right","title":null,"labelOverlap":false}}}},
{"data":{"name":"bs"},"mark":{"type":"line","color":"#2e8ae0","strokeWidth":1.4,"interpolate":"step-after","clip":true},
 "encoding":{"x":{"field":"t","type":"temporal","scale":{"domain":[{"year":2024,"month":12,"date":23,"hours":6,"minutes":28},{"year":2024,"month":12,"date":24,"hours":6,"minutes":43,"seconds":30}],"nice":false},"axis":{"orient":"bottom","title":null}},
 "y":{"field":"v","type":"quantitative","scale":{"domain":[156.233,157.322],"nice":false,"zero":false},"axis":{"orient":"right","title":null,"labelOverlap":false}}}},
{"data":{"name":"mo"},"mark":{"type":"line","color":"#f0a020","strokeWidth":1.5,"interpolate":"monotone","clip":true},
 "encoding":{"x":{"field":"t","type":"temporal","scale":{"domain":[{"year":2024,"month":12,"date":23,"hours":6,"minutes":28},{"year":2024,"month":12,"date":24,"hours":6,"minutes":43,"seconds":30}],"nice":false},"axis":{"orient":"bottom","title":null}},
 "y":{"field":"v","type":"quantitative","scale":{"domain":[156.233,157.322],"nice":false,"zero":false},"axis":{"orient":"right","title":null,"labelOverlap":false}}}},
{"data":{"name":"mb"},"mark":{"type":"line","color":"#6f9be8","strokeWidth":1.5,"interpolate":"monotone","clip":true},
 "encoding":{"x":{"field":"t","type":"temporal","scale":{"domain":[{"year":2024,"month":12,"date":23,"hours":6,"minutes":28},{"year":2024,"month":12,"date":24,"hours":6,"minutes":43,"seconds":30}],"nice":false},"axis":{"orient":"bottom","title":null}},
 "y":{"field":"v","type":"quantitative","scale":{"domain":[156.233,157.322],"nice":false,"zero":false},"axis":{"orient":"right","title":null,"labelOverlap":false}}}},
{"data":{"name":"cd"},"mark":{"type":"line","color":"#9fd33a","strokeWidth":1,"interpolate":"step-after","clip":true},
 "encoding":{"x":{"field":"t","type":"temporal","scale":{"domain":[{"year":2024,"month":12,"date":23,"hours":6,"minutes":28},{"year":2024,"month":12,"date":24,"hours":6,"minutes":43,"seconds":30}],"nice":false},"axis":{"orient":"bottom","title":null}},
 "y":{"field":"s","type":"quantitative","scale":{"domain":[156.233,157.322],"nice":false,"zero":false},"axis":{"orient":"right","title":null,"labelOverlap":false}}}},
{"data":{"name":"cd"},"mark":{"type":"rule","strokeWidth":1},
 "encoding":{"x":{"field":"t","type":"temporal","scale":{"domain":[{"year":2024,"month":12,"date":23,"hours":6,"minutes":28},{"year":2024,"month":12,"date":24,"hours":6,"minutes":43,"seconds":30}],"nice":false},
   "axis":{"orient":"bottom","title":null,"grid":true,"gridColor":"#8fa8a8","gridOpacity":0.35,"gridDash":[2,2],"labels":false,"ticks":false,"domain":false,"tickCount":24,"maxExtent":0,"minExtent":0}},
 "y":{"field":"l","type":"quantitative","scale":{"domain":[156.233,157.322],"nice":false,"zero":false},
   "axis":{"orient":"right","title":null,"grid":false,"domain":false,"ticks":false,"labelPadding":3,"labelFontSize":5.5,"labelColor":"#dfe5e5","format":".3f","labelOverlap":false,"tickCount":30,"maxExtent":26,"minExtent":26,
   "values":[157.270,157.205,157.080,157.015,156.955,156.890,156.830,156.705,156.640,156.580,156.515,156.455,156.330,156.265]}},
 "y2":{"field":"h"},
 "color":{"condition":{"test":"datum.c >= datum.o","value":"#d9dddd"},"value":"#2f95e0"}}},
{"data":{"name":"cd"},"mark":{"type":"bar","width":3.6},
 "encoding":{"x":{"field":"t","type":"temporal","scale":{"domain":[{"year":2024,"month":12,"date":23,"hours":6,"minutes":28},{"year":2024,"month":12,"date":24,"hours":6,"minutes":43,"seconds":30}],"nice":false},"axis":{"orient":"bottom","title":null}},
 "y":{"field":"o","type":"quantitative","scale":{"domain":[156.233,157.322],"nice":false,"zero":false},"axis":{"orient":"right","title":null,"labelOverlap":false}},
 "y2":{"field":"c"},
 "color":{"condition":{"test":"datum.c >= datum.o","value":"#d9dddd"},"value":"#2f95e0"}}},
{"data":{"name":"myg"},"mark":{"type":"line","color":"#9acd32","strokeWidth":1.3,"interpolate":"monotone","clip":true},
 "encoding":{"x":{"field":"t","type":"temporal","scale":{"domain":[{"year":2024,"month":12,"date":23,"hours":6,"minutes":28},{"year":2024,"month":12,"date":24,"hours":6,"minutes":43,"seconds":30}],"nice":false},"axis":{"orient":"bottom","title":null}},
 "y":{"field":"v","type":"quantitative","scale":{"domain":[156.233,157.322],"nice":false,"zero":false},"axis":{"orient":"right","title":null,"labelOverlap":false}}}},
{"data":{"name":"mgy"},"mark":{"type":"line","color":"#c2f040","strokeWidth":1.3,"interpolate":"monotone","clip":true},
 "encoding":{"x":{"field":"t","type":"temporal","scale":{"domain":[{"year":2024,"month":12,"date":23,"hours":6,"minutes":28},{"year":2024,"month":12,"date":24,"hours":6,"minutes":43,"seconds":30}],"nice":false},"axis":{"orient":"bottom","title":null}},
 "y":{"field":"v","type":"quantitative","scale":{"domain":[156.233,157.322],"nice":false,"zero":false},"axis":{"orient":"right","title":null,"labelOverlap":false}}}},
{"data":{"name":"my"},"mark":{"type":"line","color":"#f2f23a","strokeWidth":1.4,"interpolate":"monotone","clip":true},
 "encoding":{"x":{"field":"t","type":"temporal","scale":{"domain":[{"year":2024,"month":12,"date":23,"hours":6,"minutes":28},{"year":2024,"month":12,"date":24,"hours":6,"minutes":43,"seconds":30}],"nice":false},"axis":{"orient":"bottom","title":null}},
 "y":{"field":"v","type":"quantitative","scale":{"domain":[156.233,157.322],"nice":false,"zero":false},"axis":{"orient":"right","title":null,"labelOverlap":false}}}},
{"data":{"name":"mk"},"mark":{"type":"line","color":"#000000","strokeWidth":2,"interpolate":"monotone","clip":true},
 "encoding":{"x":{"field":"t","type":"temporal","scale":{"domain":[{"year":2024,"month":12,"date":23,"hours":6,"minutes":28},{"year":2024,"month":12,"date":24,"hours":6,"minutes":43,"seconds":30}],"nice":false},"axis":{"orient":"bottom","title":null}},
 "y":{"field":"v","type":"quantitative","scale":{"domain":[156.233,157.322],"nice":false,"zero":false},"axis":{"orient":"right","title":null,"labelOverlap":false}}}},
{"data":{"values":[{}]},"mark":{"type":"rule","color":"#f0a020","strokeWidth":1.5},
 "encoding":{"x":{"datum":{"year":2024,"month":12,"date":24,"hours":2,"minutes":57},"type":"temporal","scale":{"domain":[{"year":2024,"month":12,"date":23,"hours":6,"minutes":28},{"year":2024,"month":12,"date":24,"hours":6,"minutes":43,"seconds":30}],"nice":false},"axis":{"orient":"bottom","title":null}},
 "y":{"datum":156.233,"type":"quantitative","scale":{"domain":[156.233,157.322],"nice":false,"zero":false},"axis":{"orient":"right","title":null,"labelOverlap":false}},"y2":{"datum":156.314}}},
{"data":{"values":[{}]},"mark":{"type":"rule","color":"#f0a020","strokeWidth":1.5},
 "encoding":{"x":{"datum":{"year":2024,"month":12,"date":24,"hours":2,"minutes":57},"type":"temporal","scale":{"domain":[{"year":2024,"month":12,"date":23,"hours":6,"minutes":28},{"year":2024,"month":12,"date":24,"hours":6,"minutes":43,"seconds":30}],"nice":false},"axis":{"orient":"bottom","title":null}},
 "x2":{"datum":{"year":2024,"month":12,"date":24,"hours":5,"minutes":23}},
 "y":{"datum":156.314,"type":"quantitative","scale":{"domain":[156.233,157.322],"nice":false,"zero":false},"axis":{"orient":"right","title":null,"labelOverlap":false}}}},
{"data":{"values":[{}]},"mark":{"type":"rect","color":"#8c9595"},
 "encoding":{"x":{"datum":{"year":2024,"month":12,"date":24,"hours":5,"minutes":19},"type":"temporal","scale":{"domain":[{"year":2024,"month":12,"date":23,"hours":6,"minutes":28},{"year":2024,"month":12,"date":24,"hours":6,"minutes":43,"seconds":30}],"nice":false},"axis":{"orient":"bottom","title":null}},
 "x2":{"datum":{"year":2024,"month":12,"date":24,"hours":6,"minutes":11}},
 "y":{"datum":156.239,"type":"quantitative","scale":{"domain":[156.233,157.322],"nice":false,"zero":false},"axis":{"orient":"right","title":null,"labelOverlap":false}},"y2":{"datum":156.274}}},
{"data":{"values":[{}]},"mark":{"type":"text","text":"W pp","color":"#f4f4f4","fontSize":7.5,"align":"center","baseline":"middle"},
 "encoding":{"x":{"datum":{"year":2024,"month":12,"date":24,"hours":5,"minutes":45},"type":"temporal","scale":{"domain":[{"year":2024,"month":12,"date":23,"hours":6,"minutes":28},{"year":2024,"month":12,"date":24,"hours":6,"minutes":43,"seconds":30}],"nice":false},"axis":{"orient":"bottom","title":null}},
 "y":{"datum":156.2565,"type":"quantitative","scale":{"domain":[156.233,157.322],"nice":false,"zero":false},"axis":{"orient":"right","title":null,"labelOverlap":false}}}},
{"data":{"name":"lb"},"transform":[{"filter":"datum.k=='h'"}],"mark":{"type":"text","color":"#d8dede","fontSize":6,"dy":-4,"baseline":"middle"},
 "encoding":{"x":{"field":"t","type":"temporal","scale":{"domain":[{"year":2024,"month":12,"date":23,"hours":6,"minutes":28},{"year":2024,"month":12,"date":24,"hours":6,"minutes":43,"seconds":30}],"nice":false},"axis":{"orient":"bottom","title":null}},
 "y":{"field":"v","type":"quantitative","scale":{"domain":[156.233,157.322],"nice":false,"zero":false},"axis":{"orient":"right","title":null,"labelOverlap":false}},
 "text":{"field":"v","type":"quantitative","format":".3f"}}},
{"data":{"name":"lb"},"transform":[{"filter":"datum.k=='l'"}],"mark":{"type":"text","color":"#d8dede","fontSize":6,"dy":6,"baseline":"middle"},
 "encoding":{"x":{"field":"t","type":"temporal","scale":{"domain":[{"year":2024,"month":12,"date":23,"hours":6,"minutes":28},{"year":2024,"month":12,"date":24,"hours":6,"minutes":43,"seconds":30}],"nice":false},"axis":{"orient":"bottom","title":null}},
 "y":{"field":"v","type":"quantitative","scale":{"domain":[156.233,157.322],"nice":false,"zero":false},"axis":{"orient":"right","title":null,"labelOverlap":false}},
 "text":{"field":"v","type":"quantitative","format":".3f"}}},
{"data":{"values":[{}]},"mark":{"type":"text","text":"PIVOT","color":"#c9c93a","fontSize":6.5,"align":"center","baseline":"middle"},
 "encoding":{"x":{"datum":{"year":2024,"month":12,"date":24,"hours":5,"minutes":48},"type":"temporal","scale":{"domain":[{"year":2024,"month":12,"date":23,"hours":6,"minutes":28},{"year":2024,"month":12,"date":24,"hours":6,"minutes":43,"seconds":30}],"nice":false},"axis":{"orient":"bottom","title":null}},
 "y":{"datum":156.772,"type":"quantitative","scale":{"domain":[156.233,157.322],"nice":false,"zero":false},"axis":{"orient":"right","title":null,"labelOverlap":false}}}},
{"data":{"values":[{}]},"mark":{"type":"rule","color":"#c9c93a","strokeWidth":2},
 "encoding":{"x":{"datum":{"year":2024,"month":12,"date":24,"hours":6,"minutes":29},"type":"temporal","scale":{"domain":[{"year":2024,"month":12,"date":23,"hours":6,"minutes":28},{"year":2024,"month":12,"date":24,"hours":6,"minutes":43,"seconds":30}],"nice":false},"axis":{"orient":"bottom","title":null}},
 "y":{"datum":156.660,"type":"quantitative","scale":{"domain":[156.233,157.322],"nice":false,"zero":false},"axis":{"orient":"right","title":null,"labelOverlap":false}},"y2":{"datum":156.881}}},
{"data":{"values":[{}]},"mark":{"type":"text","text":"20","color":"#c9c93a","fontSize":6,"align":"center","baseline":"top"},
 "encoding":{"x":{"datum":{"year":2024,"month":12,"date":24,"hours":6,"minutes":33},"type":"temporal","scale":{"domain":[{"year":2024,"month":12,"date":23,"hours":6,"minutes":28},{"year":2024,"month":12,"date":24,"hours":6,"minutes":43,"seconds":30}],"nice":false},"axis":{"orient":"bottom","title":null}},
 "y":{"datum":156.655,"type":"quantitative","scale":{"domain":[156.233,157.322],"nice":false,"zero":false},"axis":{"orient":"right","title":null,"labelOverlap":false}}}},
{"data":{"values":[{}]},"mark":{"type":"text","text":"USDJPY_M,M5  157.131 157.131 157.130 157.130","color":"#c8d0d0","fontSize":5.5,"align":"left","baseline":"middle"},
 "encoding":{"x":{"datum":{"year":2024,"month":12,"date":23,"hours":6,"minutes":32},"type":"temporal","scale":{"domain":[{"year":2024,"month":12,"date":23,"hours":6,"minutes":28},{"year":2024,"month":12,"date":24,"hours":6,"minutes":43,"seconds":30}],"nice":false},"axis":{"orient":"bottom","title":null}},
 "y":{"datum":157.305,"type":"quantitative","scale":{"domain":[156.233,157.322],"nice":false,"zero":false},"axis":{"orient":"right","title":null,"labelOverlap":false}}}},
{"data":{"name":"bx"},"mark":{"type":"rect","height":6.5,"baseline":"middle"},
 "encoding":{"x":{"datum":{"year":2024,"month":12,"date":24,"hours":6,"minutes":46},"type":"temporal","scale":{"domain":[{"year":2024,"month":12,"date":23,"hours":6,"minutes":28},{"year":2024,"month":12,"date":24,"hours":6,"minutes":43,"seconds":30}],"nice":false},"axis":{"orient":"bottom","title":null}},
 "x2":{"datum":{"year":2024,"month":12,"date":24,"hours":7,"minutes":18}},
 "y":{"field":"v","type":"quantitative","scale":{"domain":[156.233,157.322],"nice":false,"zero":false},"axis":{"orient":"right","title":null,"labelOverlap":false}},
 "color":{"condition":[{"test":"datum.k=='w'","value":"#e6e8e8"},{"test":"datum.k=='y'","value":"#e8e23a"},{"test":"datum.k=='r'","value":"#e0242a"},{"test":"datum.k=='k'","value":"#0c0c0c"}],"value":"#8d9ea6"}}},
{"data":{"name":"bx"},"mark":{"type":"text","fontSize":5.5,"align":"center","baseline":"middle"},
 "encoding":{"x":{"datum":{"year":2024,"month":12,"date":24,"hours":7,"minutes":2},"type":"temporal","scale":{"domain":[{"year":2024,"month":12,"date":23,"hours":6,"minutes":28},{"year":2024,"month":12,"date":24,"hours":6,"minutes":43,"seconds":30}],"nice":false},"axis":{"orient":"bottom","title":null}},
 "y":{"field":"v","type":"quantitative","scale":{"domain":[156.233,157.322],"nice":false,"zero":false},"axis":{"orient":"right","title":null,"labelOverlap":false}},
 "text":{"field":"v","type":"quantitative","format":".3f"},
 "color":{"condition":{"test":"datum.k=='k'","value":"#4a4a4a"},"value":"#1d2b2b"}}}
]
},
{
"width":998,"height":88,
"layer":[
{"data":{"values":[{}]},"mark":{"type":"rule","color":"#b8c4c4","strokeWidth":1},
 "encoding":{"y":{"datum":80,"type":"quantitative","scale":{"domain":[-100,100],"nice":false,"zero":false},"axis":{"orient":"right","title":null,"labelOverlap":false}}}},
{"data":{"values":[{}]},"mark":{"type":"rule","color":"#b8c4c4","strokeWidth":1},
 "encoding":{"y":{"datum":-80,"type":"quantitative","scale":{"domain":[-100,100],"nice":false,"zero":false},"axis":{"orient":"right","title":null,"labelOverlap":false}}}},
{"data":{"name":"rb"},"mark":{"type":"line","color":"#8f7f80","strokeWidth":1.3,"interpolate":"monotone","clip":true},
 "encoding":{"x":{"field":"t","type":"temporal","scale":{"domain":[{"year":2024,"month":12,"date":23,"hours":6,"minutes":28},{"year":2024,"month":12,"date":24,"hours":6,"minutes":43,"seconds":30}],"nice":false},"axis":{"orient":"bottom","title":null}},
 "y":{"field":"v","type":"quantitative","scale":{"domain":[-100,100],"nice":false,"zero":false},"axis":{"orient":"right","title":null,"labelOverlap":false}}}},
{"data":{"name":"ry"},"mark":{"type":"line","color":"#e2e23a","strokeWidth":1.6,"interpolate":"monotone","clip":true},
 "encoding":{"x":{"field":"t","type":"temporal","scale":{"domain":[{"year":2024,"month":12,"date":23,"hours":6,"minutes":28},{"year":2024,"month":12,"date":24,"hours":6,"minutes":43,"seconds":30}],"nice":false},"axis":{"orient":"bottom","title":null}},
 "y":{"field":"v","type":"quantitative","scale":{"domain":[-100,100],"nice":false,"zero":false},"axis":{"orient":"right","title":null,"labelOverlap":false}}}},
{"data":{"name":"rc"},"mark":{"type":"line","color":"#28d2d2","strokeWidth":1.6,"interpolate":"monotone","clip":true},
 "encoding":{"x":{"field":"t","type":"temporal","scale":{"domain":[{"year":2024,"month":12,"date":23,"hours":6,"minutes":28},{"year":2024,"month":12,"date":24,"hours":6,"minutes":43,"seconds":30}],"nice":false},
   "axis":{"orient":"bottom","title":null,"domain":false,"ticks":false,"grid":true,"gridColor":"#8fa8a8","gridOpacity":0.35,"gridDash":[2,2],"tickCount":24,"format":"%H:%M","labelExpr":"datum.index == 0 ? '07:05' : (datum.index == 1 ? '' : datum.label)","labelFontSize":5,"labelColor":"#c8d2d2","labelPadding":3,"labelOverlap":false,"labelFlush":false,"maxExtent":27,"minExtent":27}},
 "y":{"field":"v","type":"quantitative","scale":{"domain":[-100,100],"nice":false,"zero":false},
   "axis":{"orient":"right","title":null,"grid":false,"domain":false,"ticks":false,"values":[100,0,-100],"tickCount":10,"format":"d","labelExpr":"datum.value == 0 ? '0.00' : datum.label","labelFontSize":5,"labelColor":"#dfe5e5","labelPadding":3,"labelOverlap":false,"maxExtent":26,"minExtent":26}}}},
{"data":{"values":[{}]},"mark":{"type":"text","text":"RCI(9,26,52) 52.5000 -30.6660 -74.4379","color":"#b8c2c2","fontSize":5,"align":"left","baseline":"middle"},
 "encoding":{"x":{"datum":{"year":2024,"month":12,"date":23,"hours":6,"minutes":34},"type":"temporal","scale":{"domain":[{"year":2024,"month":12,"date":23,"hours":6,"minutes":28},{"year":2024,"month":12,"date":24,"hours":6,"minutes":43,"seconds":30}],"nice":false},"axis":{"orient":"bottom","title":null}},
 "y":{"datum":91.4,"type":"quantitative","scale":{"domain":[-100,100],"nice":false,"zero":false},"axis":{"orient":"right","title":null,"labelOverlap":false}}}},
{"data":{"values":[{}]},"mark":{"type":"text","text":"USDJPY, M5","color":"#e6eaea","fontSize":8.5,"align":"left","baseline":"middle"},
 "encoding":{"x":{"datum":{"year":2024,"month":12,"date":23,"hours":6,"minutes":37},"type":"temporal","scale":{"domain":[{"year":2024,"month":12,"date":23,"hours":6,"minutes":28},{"year":2024,"month":12,"date":24,"hours":6,"minutes":43,"seconds":30}],"nice":false},"axis":{"orient":"bottom","title":null}},
 "y":{"datum":-61.7,"type":"quantitative","scale":{"domain":[-100,100],"nice":false,"zero":false},"axis":{"orient":"right","title":null,"labelOverlap":false}}}},
{"data":{"values":[{}]},"mark":{"type":"text","text":"157.130","color":"#2f7fd6","fontSize":13.5,"align":"left","baseline":"middle"},
 "encoding":{"x":{"datum":{"year":2024,"month":12,"date":23,"hours":6,"minutes":36},"type":"temporal","scale":{"domain":[{"year":2024,"month":12,"date":23,"hours":6,"minutes":28},{"year":2024,"month":12,"date":24,"hours":6,"minutes":43,"seconds":30}],"nice":false},"axis":{"orient":"bottom","title":null}},
 "y":{"datum":-91.4,"type":"quantitative","scale":{"domain":[-100,100],"nice":false,"zero":false},"axis":{"orient":"right","title":null,"labelOverlap":false}}}},
{"data":{"values":[{"d":"12/23(月)","t":"2024-12-23T07:05"},{"d":"12/24(火)","t":"2024-12-24T00:00"}]},"mark":{"type":"text","fontSize":5,"align":"center","baseline":"middle","color":"#c8d2d2"},
 "encoding":{"x":{"field":"t","type":"temporal","scale":{"domain":[{"year":2024,"month":12,"date":23,"hours":6,"minutes":28},{"year":2024,"month":12,"date":24,"hours":6,"minutes":43,"seconds":30}],"nice":false},"axis":{"orient":"bottom","title":null}},
 "y":{"datum":-134,"type":"quantitative","scale":{"domain":[-100,100],"nice":false,"zero":false},"axis":{"orient":"right","title":null,"labelOverlap":false}},
 "text":{"field":"d"}}},
{"data":{"values":[{"v":80},{"v":-80}]},"mark":{"type":"rect","height":6,"baseline":"middle","color":"#9aa6a6"},
 "encoding":{"x":{"datum":{"year":2024,"month":12,"date":24,"hours":6,"minutes":46},"type":"temporal","scale":{"domain":[{"year":2024,"month":12,"date":23,"hours":6,"minutes":28},{"year":2024,"month":12,"date":24,"hours":6,"minutes":43,"seconds":30}],"nice":false},"axis":{"orient":"bottom","title":null}},
 "x2":{"datum":{"year":2024,"month":12,"date":24,"hours":7,"minutes":18}},
 "y":{"field":"v","type":"quantitative","scale":{"domain":[-100,100],"nice":false,"zero":false},"axis":{"orient":"right","title":null,"labelOverlap":false}}}},
{"data":{"values":[{"v":80},{"v":-80}]},"mark":{"type":"text","fontSize":5,"align":"center","baseline":"middle","color":"#243434"},
 "encoding":{"x":{"datum":{"year":2024,"month":12,"date":24,"hours":7,"minutes":2},"type":"temporal","scale":{"domain":[{"year":2024,"month":12,"date":23,"hours":6,"minutes":28},{"year":2024,"month":12,"date":24,"hours":6,"minutes":43,"seconds":30}],"nice":false},"axis":{"orient":"bottom","title":null}},
 "y":{"field":"v","type":"quantitative","scale":{"domain":[-100,100],"nice":false,"zero":false},"axis":{"orient":"right","title":null,"labelOverlap":false}},
 "text":{"field":"v","type":"quantitative","format":".4f"}}}
]
}
]
}
